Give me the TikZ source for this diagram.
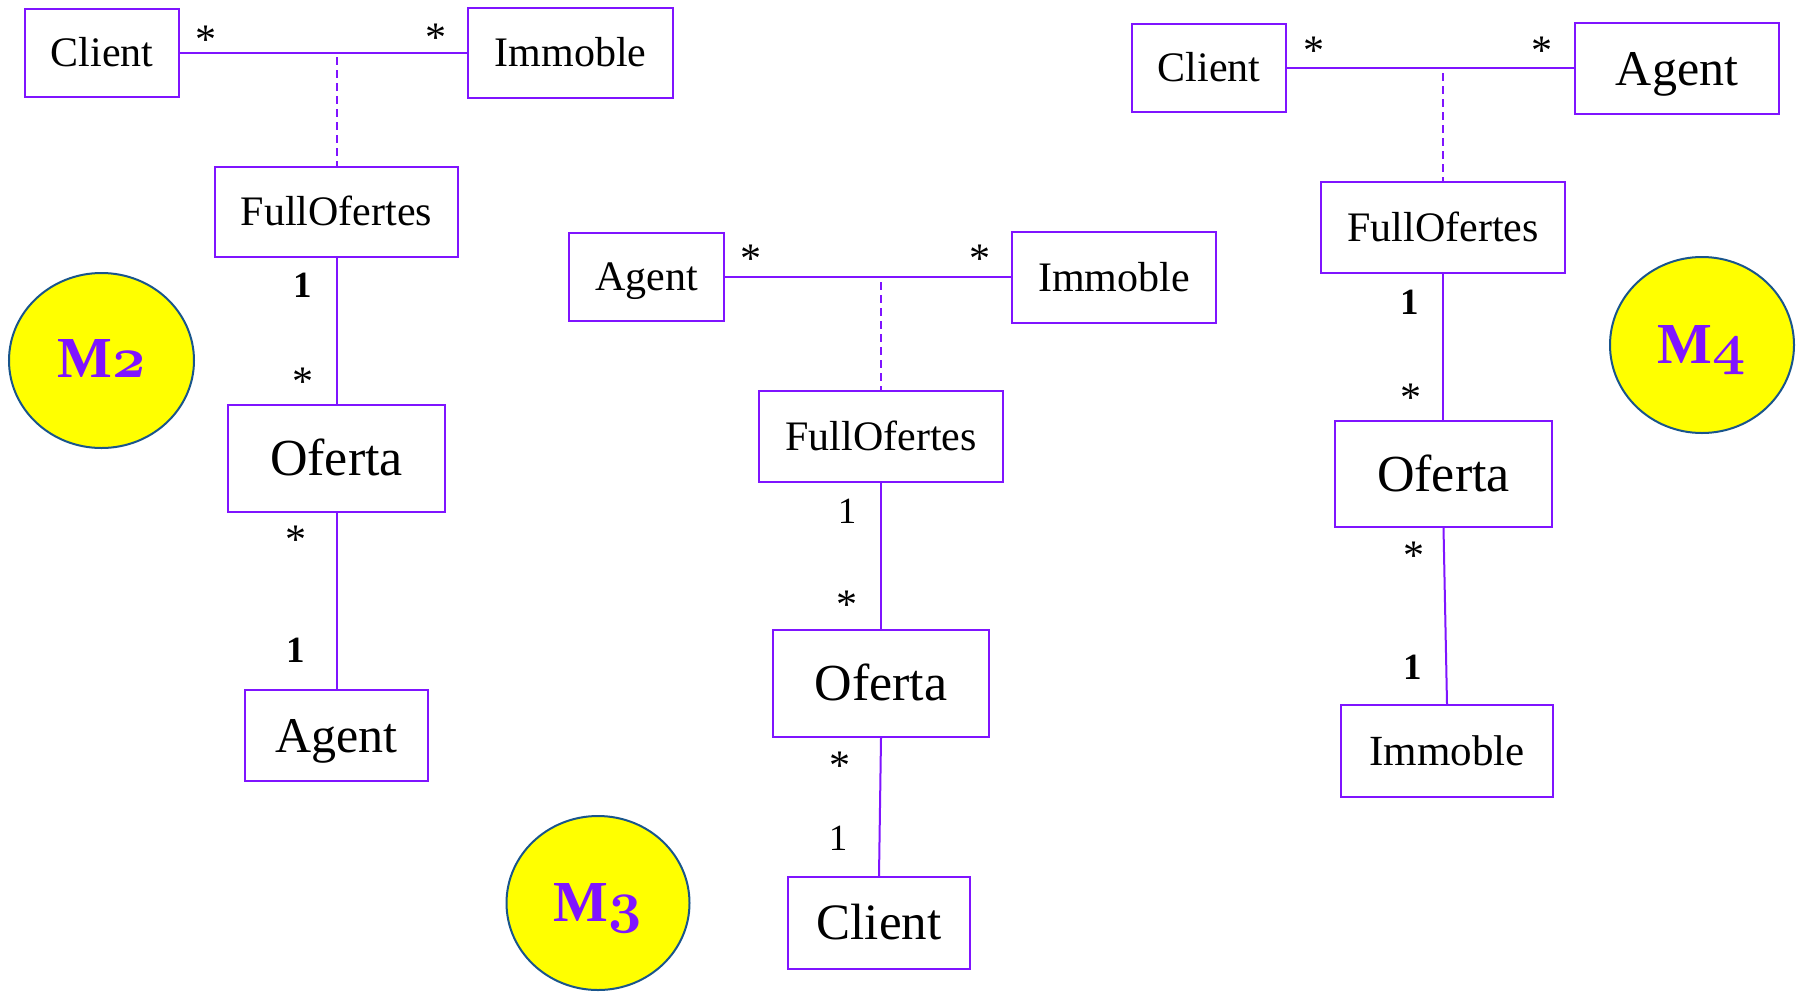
\RequirePackage{fix-cm}
\documentclass[tikz,border=0pt]{standalone}
\usepackage{fontspec}
\setmainfont{Liberation Serif}
\usetikzlibrary{shapes.geometric}

\definecolor{umlpurple}{RGB}{127,20,255}
\definecolor{tagblue}{RGB}{25,85,140}
\definecolor{tagyellow}{RGB}{255,255,0}

% old-style figures taken from the bold math italic font
\newcommand{\osfig}[1]{{\usefont{OML}{cmm}{b}{it}#1}}

\tikzset{
  cls/.style={draw=umlpurple, line width=2pt, inner sep=0pt, fill=white,
    font=\fontsize{#1}{#1}\selectfont, text height=0.662*#1, text depth=0pt},
  assoc/.style={draw=umlpurple, line width=2pt},
  assocclass/.style={draw=umlpurple, line width=2pt, dash pattern=on 8pt off 5pt},
  one/.style={anchor=base, inner sep=0pt, font=\fontsize{37}{37}\selectfont\bfseries},
  onelight/.style={anchor=base, inner sep=0pt, font=\fontsize{37}{37}\selectfont},
  many/.style={anchor=base, inner sep=0pt, font=\fontsize{42}{42}\selectfont},
  tag/.style={ellipse, draw=tagblue, line width=2pt, fill=tagyellow, inner sep=0pt},
  tagtext/.style={anchor=base, inner sep=0pt, text=umlpurple,
    font=\fontsize{58}{58}\selectfont\bfseries},
}

\begin{document}
\begin{tikzpicture}[x=1pt, y=-1pt]
\useasboundingbox[fill=white] (0,0) rectangle (1803,991);

% ---------------- model M2 ----------------
\node[cls=42, minimum width=154, minimum height=88] (c2) at (102,53) {Client};
\node[cls=42, minimum width=205, minimum height=90] (i2) at (570.5,53) {Immoble};
\node[cls=42, minimum width=243, minimum height=90] (f2) at (336.5,212) {FullOfertes};
\node[cls=52, minimum width=217, minimum height=107] (o2) at (336.5,458.5) {Oferta};
\node[cls=50, minimum width=183, minimum height=91] (a2) at (336.5,735.5) {Agent};
\coordinate (j2) at (336.5,57);

\draw[assoc] (c2) -- (i2);
\draw[assocclass] (j2) -- (f2);
\draw[assoc] (f2) -- (o2);
\draw[assoc] (o2) -- (a2);

\node[many] (m2a) at (206,34+19.7) {*};
\node[many] (m2b) at (436,32+19.7) {*};
\node[one]  (m2c) at (303,285+12) {1};
\node[many] (m2d) at (303,376+19.7) {*};
\node[many] (m2e) at (296,534+19.7) {*};
\node[one]  (m2f) at (296,650+12) {1};

\node[tag, minimum width=185, minimum height=175] (e2) at (101.5,360.5) {};
\node[tagtext] (t2) at (101.5,377) {M\osfig{2}};

% ---------------- model M3 ----------------
\node[cls=42, minimum width=155, minimum height=88] (a3) at (646.5,277) {Agent};
\node[cls=42, minimum width=204, minimum height=91] (i3) at (1114,277.5) {Immoble};
\node[cls=42, minimum width=244, minimum height=91] (f3) at (881,436.5) {FullOfertes};
\node[cls=52, minimum width=216, minimum height=107] (o3) at (881,683.5) {Oferta};
\node[cls=51, minimum width=182, minimum height=92] (cl3) at (879,923) {Client};
\coordinate (j3) at (881,282);

\draw[assoc] (a3.east) -- (a3.east -| i3.west);
\draw[assocclass] (j3) -- (f3);
\draw[assoc] (f3) -- (o3);
\draw[assoc] (o3.south) -- (cl3.north);

\node[many] (m3a) at (751,253+19.7) {*};
\node[many] (m3b) at (980,253+19.7) {*};
\node[onelight] (m3c) at (847,511+12) {1};
\node[many] (m3d) at (847,599+19.7) {*};
\node[many] (m3e) at (840,760+19.7) {*};
\node[onelight] (m3f) at (838,838+12) {1};

\node[tag, minimum width=183, minimum height=174] (e3) at (598,903) {};
\node[tagtext] (t3) at (598,921) {M\osfig{3}};

% ---------------- model M4 ----------------
\node[cls=42, minimum width=154, minimum height=88] (c4) at (1209,68) {Client};
\node[cls=50, minimum width=204, minimum height=91] (a4) at (1677,68.5) {Agent};
\node[cls=42, minimum width=244, minimum height=91] (f4) at (1443,227.5) {FullOfertes};
\node[cls=52, minimum width=217, minimum height=106] (o4) at (1443.5,474) {Oferta};
\node[cls=43, minimum width=212, minimum height=92] (im4) at (1447,751) {Immoble};
\coordinate (j4) at (1443,73);

\draw[assoc] (c4.east) -- (c4.east -| a4.west);
\draw[assocclass] (j4) -- (f4);
\draw[assoc] (f4) -- (f4 |- o4.north);
\draw[assoc] (o4.south) -- (im4.north);

\node[many] (m4a) at (1314,45+19.7) {*};
\node[many] (m4b) at (1542,45+19.7) {*};
\node[one]  (m4c) at (1410,302+12) {1};
\node[many] (m4d) at (1411,392+19.7) {*};
\node[many] (m4e) at (1414,550+19.7) {*};
\node[one]  (m4f) at (1413,667+12) {1};

\node[tag, minimum width=184, minimum height=176] (e4) at (1702,345) {};
\node[tagtext] (t4) at (1702,363) {M\osfig{4}};
\end{tikzpicture}
\end{document}
